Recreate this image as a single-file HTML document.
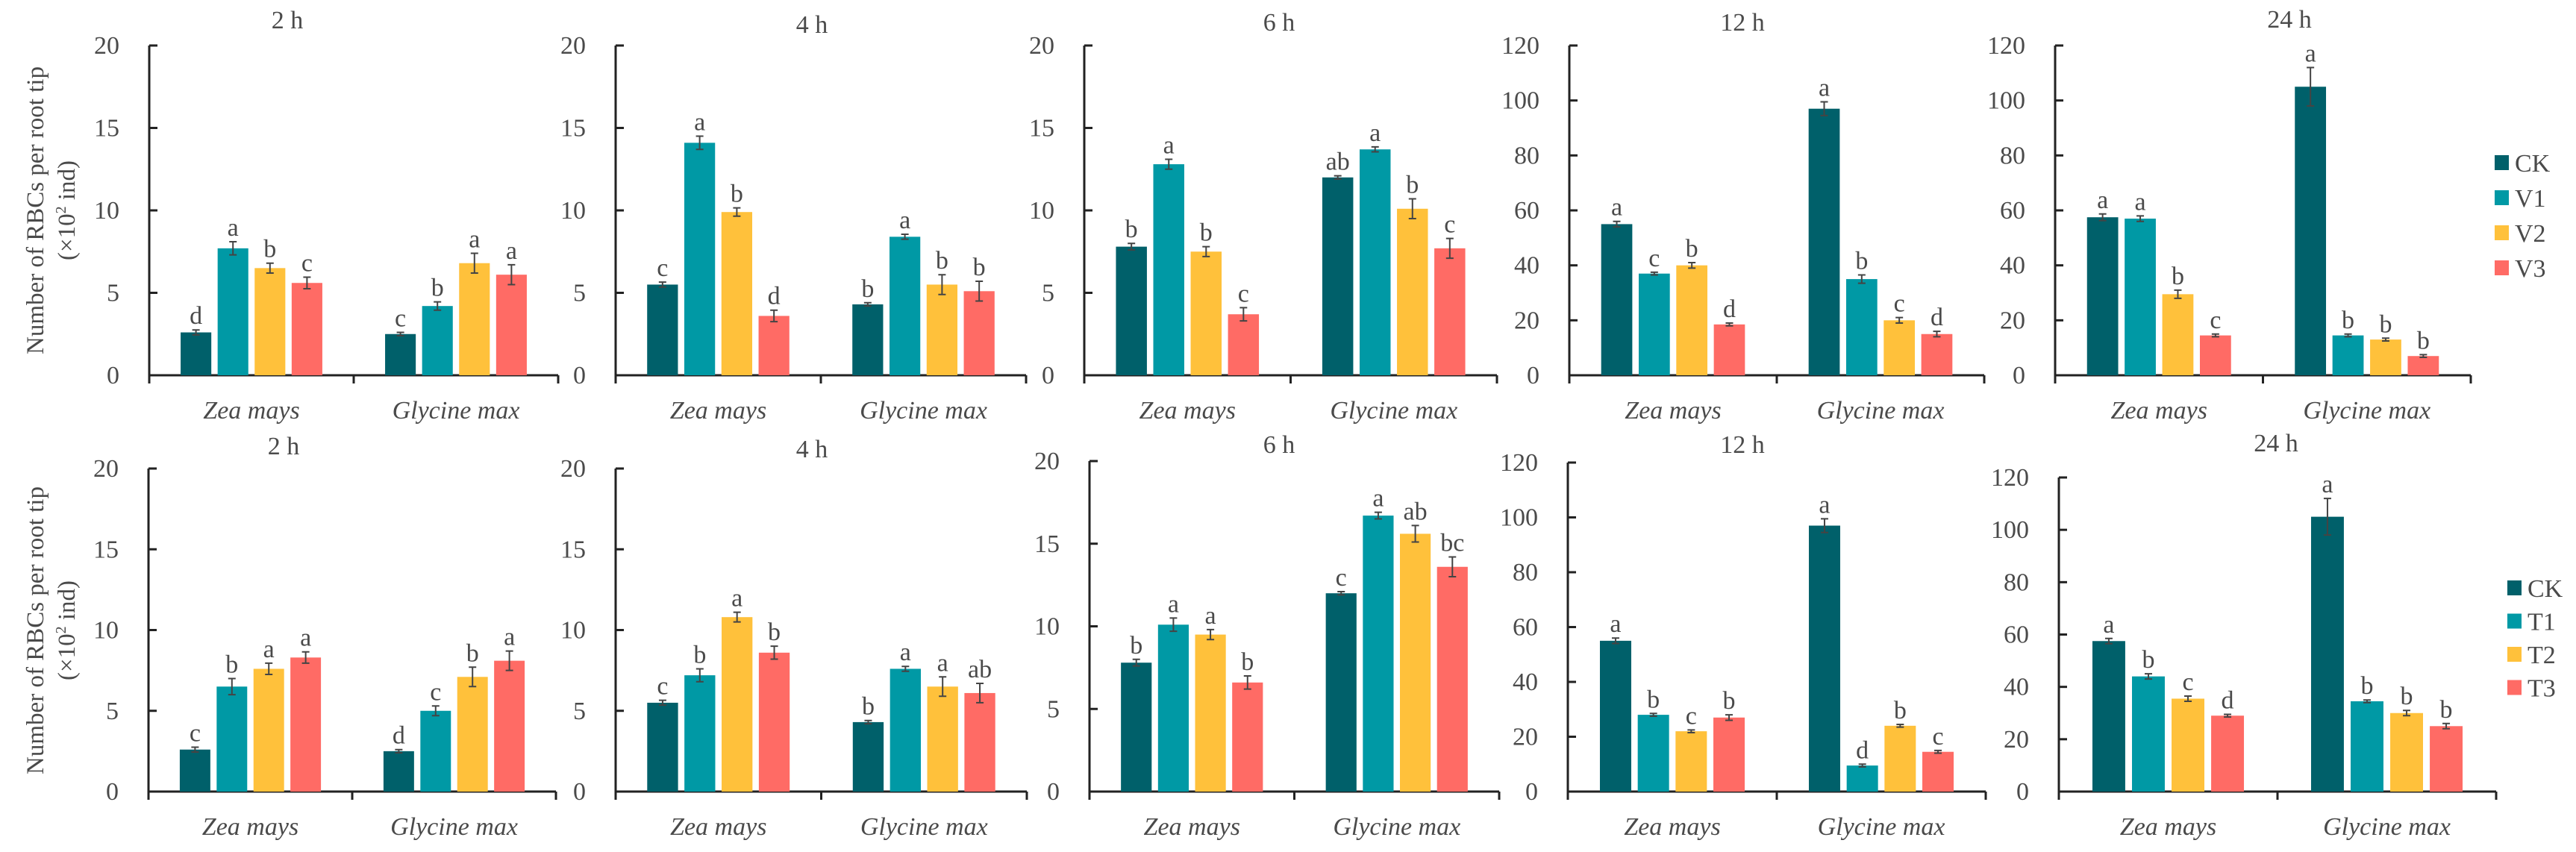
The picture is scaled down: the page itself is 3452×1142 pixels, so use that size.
<!DOCTYPE html>
<html><head><meta charset="utf-8">
<style>
html,body{margin:0;padding:0;background:#fff;}
svg{display:block;}
text{font-family:"Liberation Serif",serif;fill:#4a4a4a;}
</style></head>
<body>
<svg id="fig" width="3452" height="1142" viewBox="0 0 3452 1142" xmlns="http://www.w3.org/2000/svg">
<text transform="translate(58,282) rotate(-90)" text-anchor="middle" font-size="33">Number of RBCs per root tip</text>
<text transform="translate(100,282) rotate(-90)" text-anchor="middle" font-size="33">(×10<tspan font-size="20" dy="-12">2</tspan><tspan dy="12"> ind)</tspan></text>
<text transform="translate(58,845) rotate(-90)" text-anchor="middle" font-size="33">Number of RBCs per root tip</text>
<text transform="translate(100,845) rotate(-90)" text-anchor="middle" font-size="33">(×10<tspan font-size="20" dy="-12">2</tspan><tspan dy="12"> ind)</tspan></text>
</svg>
<script>
const categories = ["Zea mays", "Glycine max"];
const titles = ["2 h", "4 h", "6 h", "12 h", "24 h"];
const seriesTop = ["CK", "V1", "V2", "V3"];
const seriesBottom = ["CK", "T1", "T2", "T3"];
const colors = ["#00606A", "#0099A5", "#FFC13B", "#FF6B65"];
const yMax = [20, 20, 20, 120, 120];
const yStep = [5, 5, 5, 20, 20];

const topValues = [
 [[2.6,7.7,6.5,5.6],[2.5,4.2,6.8,6.1]],
 [[5.5,14.1,9.9,3.6],[4.3,8.4,5.5,5.1]],
 [[7.8,12.8,7.5,3.7],[12.0,13.7,10.1,7.7]],
 [[55,37,40,18.5],[97,35,20,15]],
 [[57.5,57,29.5,14.5],[105,14.5,13,7]]
];
const topErrors = [
 [[0.15,0.4,0.3,0.35],[0.1,0.25,0.6,0.6]],
 [[0.15,0.4,0.25,0.35],[0.1,0.15,0.6,0.6]],
 [[0.2,0.3,0.3,0.4],[0.1,0.15,0.6,0.6]],
 [[1,0.5,1,0.5],[2.5,1.5,1,1]],
 [[1.2,1,1.5,0.5],[7,0.5,0.5,0.5]]
];
const topLetters = [
 [["d","a","b","c"],["c","b","a","a"]],
 [["c","a","b","d"],["b","a","b","b"]],
 [["b","a","b","c"],["ab","a","b","c"]],
 [["a","c","b","d"],["a","b","c","d"]],
 [["a","a","b","c"],["a","b","b","b"]]
];
const bottomValues = [
 [[2.6,6.5,7.6,8.3],[2.5,5.0,7.1,8.1]],
 [[5.5,7.2,10.8,8.6],[4.3,7.6,6.5,6.1]],
 [[7.8,10.1,9.5,6.6],[12.0,16.7,15.6,13.6]],
 [[55,28,22,27],[97,9.5,24,14.5]],
 [[57.5,44,35.5,29],[105,34.5,30,25]]
];
const bottomErrors = [
 [[0.15,0.5,0.35,0.35],[0.1,0.3,0.6,0.6]],
 [[0.15,0.4,0.3,0.4],[0.1,0.15,0.6,0.6]],
 [[0.2,0.4,0.3,0.4],[0.1,0.2,0.5,0.6]],
 [[1,0.5,0.5,1],[2.5,0.5,0.5,0.5]],
 [[1,1,1,0.5],[7,0.5,1,1]]
];
const bottomLetters = [
 [["c","b","a","a"],["d","c","b","a"]],
 [["c","b","a","b"],["b","a","a","ab"]],
 [["b","a","a","b"],["c","a","ab","bc"]],
 [["a","b","c","b"],["a","d","b","c"]],
 [["a","b","c","d"],["a","b","b","b"]]
];

const NS = "http://www.w3.org/2000/svg";
const svg = document.getElementById("fig");
function mk(tag, attrs, parent){
  const e = document.createElementNS(NS, tag);
  for (const k in attrs) e.setAttribute(k, attrs[k]);
  (parent||svg).appendChild(e);
  return e;
}
const rows = [
  {x0:[200,825,1453,2103,2754], x1:[748,1375,2006,2659,3311], top:[61,61,61,61,61], bottom:503, titleY:[38,44,41,41,37], titleX:[385,1088,1714,2335,3068]},
  {x0:[199,825,1460,2101,2759], x1:[745,1376,2009,2661,3345], top:[628,628,618,620,640], bottom:1061, titleY:[609,613,607,607,605], titleX:[380,1088,1714,2335,3050]}
];
const rowData = [
  {vals:topValues, errs:topErrors, lets:topLetters, series:seriesTop, tag:"top"},
  {vals:bottomValues, errs:bottomErrors, lets:bottomLetters, series:seriesBottom, tag:"bottom"}
];

rows.forEach((L, r) => {
  const D = rowData[r];
  for (let p = 0; p < 5; p++) {
    const g = mk("g", {});
    
    
    const x0 = L.x0[p], x1 = L.x1[p], yT = L.top[p], yB = L.bottom;
    const yScale = v => yB - v / yMax[p] * (yB - yT);
    const w = x1 - x0;
    const t = mk("text", {x:L.titleX[p], y:L.titleY[p], "text-anchor":"middle", "font-size":34}, g);
    
    
    t.textContent = titles[p];
    const ya = mk("line", {x1:x0, y1:yT, x2:x0, y2:yB+10, stroke:"#222", "stroke-width":3}, g);
    
    
    for (let v = 0; v <= yMax[p]; v += yStep[p]) {
      const y = yScale(v);
      mk("line", {x1:x0, y1:y, x2:x0+11, y2:y, stroke:"#222", "stroke-width":3}, g);
      const tl = mk("text", {x:x0-40, y:y+11, "text-anchor":"end", "font-size":34}, g);
      
      
      tl.textContent = v;
    }
    const xa = mk("line", {x1:x0, y1:yB, x2:x1, y2:yB, stroke:"#222", "stroke-width":3}, g);
    
    
    [x0, (x0+x1)/2, x1].forEach(tx => mk("line", {x1:tx, y1:yB, x2:tx, y2:yB+11, stroke:"#222", "stroke-width":3}, g));
    const bw = w * 0.075, pitch = w * 0.0905;
    categories.forEach((cat, c) => {
      const cx = x0 + w * (c === 0 ? 0.25 : 0.75);
      const cl = mk("text", {x:cx, y:yB+58, "text-anchor":"middle", "font-size":34, "font-style":"italic"}, g);
      
      
      cl.textContent = cat;
      for (let s = 0; s < 4; s++) {
        const v = D.vals[p][c][s], e = D.errs[p][c][s];
        const bx = cx + (s - 1.5) * pitch - bw / 2;
        const y = yScale(v);
        const b = mk("rect", {x:bx, y:y, width:bw, height:yB - y, fill:colors[s]}, g);
        
        
        const mx = bx + bw / 2, yh = yScale(v + e), yl = yScale(v - e);
        const eb = mk("path", {d:`M${mx},${yh}V${yl}M${mx-5},${yh}H${mx+5}M${mx-5},${yl}H${mx+5}`, stroke:"#444", "stroke-width":2, fill:"none"}, g);
        
        
        const lt = mk("text", {x:mx, y:yh - 8, "text-anchor":"middle", "font-size":34}, g);
        
        
        lt.textContent = D.lets[p][c][s];
      }
    });
  }
});

const legendPos = [{x:3343, y:218, dy:47}, {x:3360, y:788, dy:44.5}];
legendPos.forEach((lp, r) => {
  const D = rowData[r];
  const g = mk("g", {});
  
  
  D.series.forEach((s, i) => {
    const y = lp.y + i * lp.dy;
    const sq = mk("rect", {x:lp.x, y:y - 10, width:19, height:20, fill:colors[i]}, g);
    
    
    const tx = mk("text", {x:lp.x + 27, y:y + 12, "font-size":34}, g);
    
    
    tx.textContent = s;
  });
});
</script>
</body></html>
